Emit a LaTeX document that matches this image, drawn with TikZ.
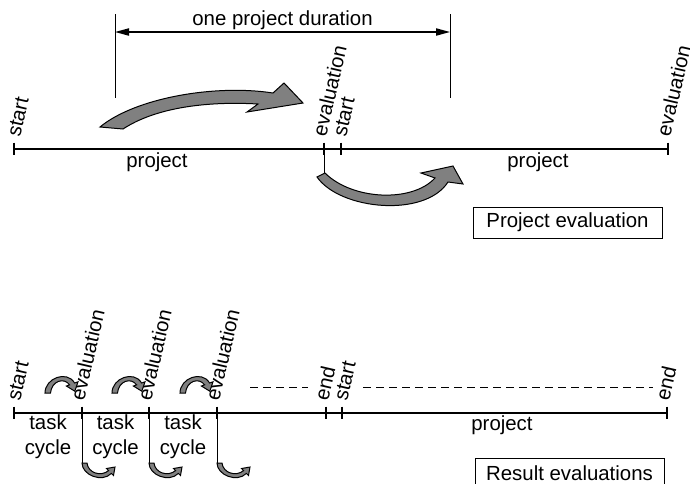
\documentclass[tikz,border=0pt]{standalone}
\usepackage{fontspec}
\setmainfont{Liberation Sans}
\usetikzlibrary{positioning,calc,arrows.meta}

\tikzset{
  lbl/.style={rotate=77, anchor=base west, inner sep=0pt, font=\fontsize{10.2}{12}\selectfont},
  txt/.style={inner sep=0pt, align=center, font=\fontsize{10.2}{12.5}\selectfont},
  legend/.style={draw, line width=0.5pt, inner sep=0pt, minimum width=94.5pt, minimum height=15.5pt, font=\fontsize{10.2}{12}\selectfont},
  timeline/.style={line width=1pt},
  tickmark/.style={line width=0.8pt},
  guide/.style={line width=0.5pt},
  bigarrow/.style={fill=gray, draw=black, line width=0.5pt},
  pics/hopover/.style={code={
    \filldraw[bigarrow] (0,0) .. controls (0,-15) and (22,-23) .. (29.6,-10) -- (33,-11.2)
      -- (29.8,-1.8) -- (21.4,-7) -- (24.6,-8.2) .. controls (19,-16) and (6.5,-12) .. (5.5,0) -- cycle;
  }},
  pics/hopunder/.style={code={
    \filldraw[bigarrow] (0,0) .. controls (0,12) and (20,20) .. (29.4,10.4) -- (31.5,12.5)
      -- (33,4) -- (24.5,5.5) -- (26.6,7.6) .. controls (19,14) and (6,10) .. (5,0) -- cycle;
  }}
}

\begin{document}
\begin{tikzpicture}[x=0.5pt, y=-0.5pt]
\useasboundingbox (0,0) rectangle (690,483);

% project evaluation
\coordinate (ta0) at (14,148.5);
\coordinate (ta1) at (324,148.5);
\coordinate (ta2) at (341,148.5);
\coordinate (ta3) at (668,148.5);

\draw[timeline] (ta0) -- (ta3);
\foreach \t in {ta0,ta1,ta2,ta3}
  \draw[tickmark] (\t) ++(0,-6) -- ++(0,12);

\foreach \t/\s/\d in {ta0/start/6, ta1/evaluation/2, ta2/start/5, ta3/evaluation/2}
  \node[lbl] (l\t) at ($(\t)+(\d,-10.5)$) {\s};

\node[txt] (pa) at (157,162) {project};
\node[txt] (pb) at (538,162) {project};

\coordinate (dla) at (115,14);
\coordinate (dlb) at (115,98);
\coordinate (dra) at (450,14);
\coordinate (drb) at (450,98);
\coordinate (dl) at (115,32);
\coordinate (dr) at (450,32);
\draw[guide] (dla) -- (dlb);
\draw[guide] (dra) -- (drb);
\draw[line width=0.7pt, {Triangle[length=7pt,width=3.6pt]}-{Triangle[length=7pt,width=3.6pt]}] (dl) -- (dr);
\node[txt] (dur) at ($(dl)!0.5!(dr)+(0,-12)$) {one project duration};

\filldraw[bigarrow] (100,127) .. controls (135,98) and (215,84) .. (273,93) -- (284,83) -- (303,103)
  -- (247,112) -- (258,104) .. controls (205,101) and (155,108) .. (123,129) -- cycle;

\coordinate (ea) at (324,173);
\draw[guide] (ta1) -- (ea);
\filldraw[bigarrow] (317,177) .. controls (340,210) and (425,218) .. (448,182) -- (463,184) -- (453,166)
  -- (421,173) -- (435,178) .. controls (412,203) and (352,200) .. (325,173) -- cycle;

\node[legend] (pe) at (567.5,222.5) {Project evaluation};

% result evaluations
\coordinate (tb0) at (14,412.5);
\coordinate (tb1) at (82,412.5);
\coordinate (tb2) at (149,412.5);
\coordinate (tb3) at (217,412.5);
\coordinate (tb4) at (326,412.5);
\coordinate (tb5) at (342,412.5);
\coordinate (tb6) at (667,412.5);

\draw[timeline] (tb0) -- (tb6);
\foreach \t in {tb0,tb1,tb2,tb3,tb4,tb5,tb6}
  \draw[tickmark] (\t) ++(0,-6) -- ++(0,12);

\foreach \t/\s/\d in {tb0/start/6, tb1/evaluation/2, tb2/evaluation/2, tb3/evaluation/2, tb4/end/2, tb5/start/5, tb6/end/2}
  \node[lbl] (l\t) at ($(\t)+(\d,-10.5)$) {\s};

\foreach \a/\b [count=\i] in {tb0/tb1, tb1/tb2, tb2/tb3}
  \node[txt] (tc\i) at ($(\a)!0.5!(\b)+(0,24.5)$) {task\\cycle};
\node[txt] (pc) at (502,425) {project};

\coordinate (da) at (250,387);
\coordinate (db) at (308,387);
\coordinate (dc) at (363,387);
\coordinate (dd) at (653,387);
\draw[guide, dash pattern=on 4pt off 2.5pt] (da) -- (db);
\draw[guide, dash pattern=on 4pt off 2.5pt] (dc) -- (dd);

\foreach \t in {tb1,tb2,tb3} {
  \pic at ($(\t)+(-37,-19.5)$) {hopover};
  \draw[guide] (\t) -- ++(0,50.5) coordinate (h\t);
  \pic at (h\t) {hopunder};
}

\node[legend] (re) at (569.5,473.5) {Result evaluations};
\end{tikzpicture}
\end{document}
